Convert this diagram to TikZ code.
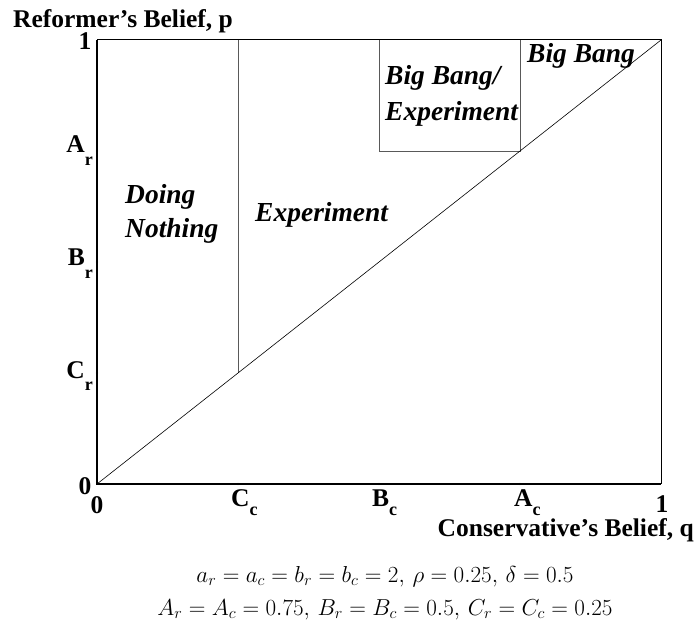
\RequirePackage{fix-cm}
\documentclass[tikz,border=0pt]{standalone}
\usepackage{fontspec}
\newfontfamily\tms{Liberation Serif}
\newcommand\lsub[3]{#1\raisebox{-#3pt}{\fontsize{18}{18}\selectfont #2}}
\begin{document}
\begin{tikzpicture}[x=1pt,y=-1pt,
  lbl/.style={font=\tms\bfseries\fontsize{25.5}{25.5}\selectfont, inner sep=0},
  reg/.style={font=\tms\bfseries\itshape\fontsize{27.5}{27.5}\selectfont, inner sep=0},
  captext/.style={font=\fontsize{23.1}{23.1}\selectfont, inner sep=0},
  axis/.style={line width=1.6pt},
  frame/.style={line width=1pt},
  part/.style={draw=black!65, line width=0.7pt},
  diag/.style={draw=black, line width=0.6pt},
  tickdot/.style={circle, fill=black, inner sep=0, minimum size=2.2pt}]
\useasboundingbox (0,0) rectangle (699,628);
% corners
\coordinate (O) at (97,484);
\coordinate (X1) at (661,484);
\coordinate (Y1) at (97,40);
\coordinate (T) at (661,40);
% frame
\draw[frame] (Y1) -- (T) -- (X1);
\draw[axis] (Y1) -- (O) -- (X1);
% partition lines
\coordinate (Ccl) at (238,373);
\coordinate (Cct) at (238,40);
\coordinate (Bcl) at (379,151);
\coordinate (Bct) at (379,40);
\coordinate (Acl) at (520,151);
\coordinate (Act) at (520,40);
\draw[part] (Ccl) -- (Cct);
\draw[part] (Bct) -- (Bcl) -- (Acl) -- (Act);
\draw[diag] (O) -- (T);
% tick dots
\node[tickdot] (tAr) at (97,151) {};
\node[tickdot] (tBr) at (97,262) {};
\node[tickdot] (tCr) at (97,373) {};
\node[tickdot] (tCc) at (238,484) {};
\node[tickdot] (tBc) at (379,484) {};
\node[tickdot] (tAc) at (520,484) {};
% axis titles
\node[lbl, anchor=base west] (ytitle) at (13,28) {Reformer’s Belief, p};
\node[lbl, anchor=base east] (xtitle) at (694,536) {Conservative’s Belief, q};
% tick labels
\node[lbl, anchor=base] (y1) at (85,50) {1};
\node[lbl, anchor=base] (y0) at (85,494) {0};
\node[lbl, anchor=base east] (lAr) at (93,153) {\lsub{A}{r}{13}};
\node[lbl, anchor=base east] (lBr) at (93,266) {\lsub{B}{r}{13}};
\node[lbl, anchor=base east] (lCr) at (93,378) {\lsub{C}{r}{13}};
\node[lbl, anchor=base] (x0) at (97,513) {0};
\node[lbl, anchor=base west] (lCc) at (231,506) {\lsub{C}{c}{9}};
\node[lbl, anchor=base west] (lBc) at (372,506) {\lsub{B}{c}{9}};
\node[lbl, anchor=base west] (lAc) at (514,506) {\lsub{A}{c}{9}};
\node[lbl, anchor=base] (x1) at (662,512) {1};
% region labels
\node[reg, anchor=base west] (dn1) at (125,204) {Doing};
\node[reg, anchor=base west] (dn2) at (125,238) {Nothing};
\node[reg, anchor=base west] (ex) at (255,222) {Experiment};
\node[reg, anchor=base west] (bbe1) at (385,85) {Big Bang/};
\node[reg, anchor=base west] (bbe2) at (385,121) {Experiment};
\node[reg, anchor=base west] (bb) at (527,63) {Big Bang};
% caption
\node[captext, anchor=base] (c1) at (385,582) {$a_r=a_c=b_r=b_c=2,\,\rho=0.25,\,\delta=0.5$};
\node[captext, anchor=base] (c2) at (385,615) {$A_r=A_c=0.75,\,B_r=B_c=0.5,\,C_r=C_c=0.25$};
\end{tikzpicture}
\end{document}
